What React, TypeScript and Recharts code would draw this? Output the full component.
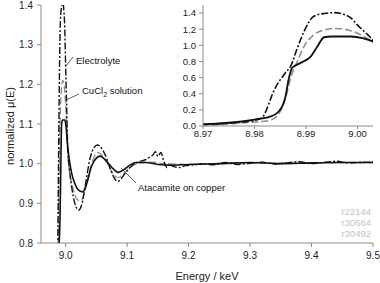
import { LineChart, Line, XAxis, YAxis } from 'recharts';

// Electrolyte (dash-dot)
const electrolyteE = [8.96, 8.97, 8.975, 8.98, 8.9814, 8.984, 8.986, 8.987, 8.9883, 8.9896, 8.9915, 8.9935, 8.9955, 8.9975, 8.9987, 9.0, 9.002, 9.0035, 9.006, 9.01, 9.015, 9.021, 9.026, 9.032, 9.04, 9.046, 9.052, 9.058, 9.065, 9.072, 9.08, 9.085, 9.09, 9.1, 9.11, 9.12, 9.13, 9.138, 9.142, 9.146, 9.15, 9.155, 9.16, 9.165, 9.168, 9.175, 9.185, 9.195, 9.21, 9.225, 9.24, 9.26, 9.28, 9.3, 9.32, 9.34, 9.36, 9.38, 9.4, 9.42, 9.44, 9.46, 9.48, 9.5];
const electrolyteMu = [0.01, 0.02, 0.035, 0.07, 0.1, 0.47, 0.66, 0.74, 0.965, 1.17, 1.36, 1.395, 1.405, 1.38, 1.34, 1.25, 1.13, 1.04, 0.99, 0.94, 0.9, 0.883, 0.895, 0.945, 1.015, 1.04, 1.047, 1.04, 1.02, 0.99, 0.962, 0.955, 0.962, 0.982, 0.998, 1.005, 1.01, 1.018, 1.022, 1.03, 1.018, 1.028, 1.005, 0.99, 1.0, 0.993, 0.99, 0.995, 0.997, 1.0, 0.997, 1.003, 0.998, 1.001, 1.004, 0.999, 1.002, 1.005, 1.0, 1.003, 1.006, 1.002, 1.003, 1.004];

// CuCl2 solution (grey dashed)
const cuclE = [8.96, 8.97, 8.975, 8.98, 8.983, 8.985, 8.9863, 8.987, 8.9883, 8.9896, 8.9915, 8.9935, 8.9955, 8.9975, 9.0, 9.0015, 9.003, 9.006, 9.01, 9.015, 9.02, 9.025, 9.03, 9.037, 9.045, 9.053, 9.06, 9.068, 9.076, 9.085, 9.095, 9.105, 9.12, 9.14, 9.16, 9.18, 9.2, 9.25, 9.3, 9.35, 9.4, 9.45, 9.5];
const cuclMu = [0.005, 0.01, 0.025, 0.05, 0.07, 0.18, 0.41, 0.59, 0.8, 0.985, 1.13, 1.19, 1.21, 1.2, 1.15, 1.1, 1.04, 0.985, 0.95, 0.922, 0.908, 0.907, 0.922, 0.968, 1.012, 1.028, 1.02, 1.0, 0.978, 0.965, 0.975, 0.99, 1.002, 1.004, 1.0, 0.999, 0.998, 1.0, 1.002, 1.001, 1.002, 1.003, 1.003];

// Atacamite on copper (solid)
const atacamiteE = [8.96, 8.97, 8.975, 8.98, 8.983, 8.9847, 8.986, 8.9866, 8.9873, 8.9889, 8.9909, 8.9922, 8.9935, 8.995, 8.9987, 9.001, 9.003, 9.006, 9.01, 9.015, 9.02, 9.0276, 9.035, 9.042, 9.05, 9.056, 9.063, 9.07, 9.078, 9.086, 9.095, 9.105, 9.115, 9.13, 9.15, 9.17, 9.2, 9.25, 9.3, 9.35, 9.4, 9.45, 9.5];
const atacamiteMu = [0.01, 0.02, 0.04, 0.08, 0.115, 0.18, 0.36, 0.57, 0.72, 0.78, 0.86, 0.985, 1.1, 1.11, 1.11, 1.09, 1.05, 1.01, 0.975, 0.95, 0.935, 0.929, 0.953, 0.993, 1.014, 1.019, 1.012, 1.0, 0.986, 0.978, 0.985, 0.997, 1.003, 1.003, 0.998, 0.996, 0.998, 1.0, 1.003, 1.0, 1.002, 1.003, 1.003];

const mainXTicks = [9.0, 9.1, 9.2, 9.3, 9.4, 9.5];
const mainYTicks = [0.8, 0.9, 1.0, 1.1, 1.2, 1.3, 1.4];
const insetXTicks = [8.97, 8.98, 8.99, 9.0];
const insetYTicks = [0, 0.2, 0.4, 0.6, 0.8, 1.0, 1.2, 1.4];
const runLabels = ['r22144', 'r30664', 'r30492'];

const toPoints = (e: number[], mu: number[]) => e.map((x, i) => ({ e: x, mu: mu[i] }));
const electrolyte = toPoints(electrolyteE, electrolyteMu);
const cucl = toPoints(cuclE, cuclMu);
const atacamite = toPoints(atacamiteE, atacamiteMu);

const FONT = '"Liberation Sans", Arial, sans-serif';
const AXIS = '#8a8a8a';
const tickStyle = { fontSize: 10, fill: '#222', fontFamily: FONT };
const insetTick = { fontSize: 9.5, fill: '#222', fontFamily: FONT };

const series = (w = 1) => [
  <Line key="c" data={cucl} dataKey="mu" type="monotone" stroke="#8c8c8c" strokeWidth={1.3 * w} strokeDasharray="7 3" dot={false} isAnimationActive={false} />,
  <Line key="a" data={atacamite} dataKey="mu" type="monotone" stroke="#111" strokeWidth={1.6 * w} dot={false} isAnimationActive={false} />,
  <Line key="e" data={electrolyte} dataKey="mu" type="monotone" stroke="#111" strokeWidth={1.4 * w} strokeDasharray="7 2 2 2" dot={false} isAnimationActive={false} />,
];

export default function App() {
  return (
    <div style={{ position: 'relative', width: 380, height: 283, fontFamily: FONT }}>
      <style>{'body{margin:0}'}</style>
      <LineChart width={380} height={283} margin={{ top: 5, right: 7, left: 0, bottom: 0 }}>
        <XAxis dataKey="e" type="number" domain={[8.96, 9.5]} ticks={mainXTicks} allowDataOverflow
          tickFormatter={(v: number) => v.toFixed(1)} tick={tickStyle} tickSize={4} tickMargin={5}
          stroke={AXIS} height={40} />
        <XAxis xAxisId="top" orientation="top" type="number" domain={[8.96, 9.5]} tick={false} tickLine={false}
          stroke={AXIS} height={0} />
        <YAxis type="number" domain={[0.8, 1.4]} ticks={mainYTicks} allowDataOverflow
          tickFormatter={(v: number) => v.toFixed(1)} tick={tickStyle} tickSize={4} tickMargin={4}
          stroke={AXIS} width={41} />
        <YAxis yAxisId="right" orientation="right" type="number" domain={[0.8, 1.4]} tick={false} tickLine={false}
          stroke={AXIS} width={0} />
        {series()}
      </LineChart>

      <div style={{ position: 'absolute', left: 160, top: 0 }}>
        <LineChart width={220} height={145} margin={{ top: 5, right: 7, left: 0, bottom: 0 }}>
          <rect x={203 - 160} y={5} width={170} height={121} fill="#fff" />
          <XAxis dataKey="e" type="number" domain={[8.97, 9.003]} ticks={insetXTicks} allowDataOverflow
            tickFormatter={(v: number) => v.toFixed(2)} tick={insetTick} tickSize={3} tickMargin={1}
            stroke={AXIS} height={19} />
          <YAxis type="number" domain={[0, 1.5]} ticks={insetYTicks} allowDataOverflow
            tickFormatter={(v: number) => v.toFixed(1)} tick={insetTick} tickSize={4} tickMargin={3}
            stroke={AXIS} width={43} />
          {series(1.15)}
        </LineChart>
      </div>

      <svg width={380} height={283} style={{ position: 'absolute', left: 0, top: 0, pointerEvents: 'none' }}>
        <g fontFamily={FONT} fontSize={9.5} fill="#111">
          <line x1={66} y1={66} x2={73} y2={57} stroke="#333" strokeWidth={0.8} />
          <text x={76} y={64}>Electrolyte</text>
          <line x1={66} y1={100} x2={79} y2={94} stroke="#333" strokeWidth={0.8} />
          <text x={82} y={94}>
            <tspan>CuCl</tspan>
            <tspan dy={3} fontSize={7}>2</tspan>
            <tspan dy={-3}> solution</tspan>
          </text>
          <line x1={121} y1={168} x2={136} y2={183} stroke="#333" strokeWidth={0.8} />
          <text x={138} y={191}>Atacamite on copper</text>
        </g>
        <g fontFamily={FONT} fontSize={9.5} fill="#c4c4c4" textAnchor="end">
          {runLabels.map((r, i) => (
            <text key={r} x={371} y={215 + i * 11}>{r}</text>
          ))}
        </g>
        <text x={207} y={280} textAnchor="middle" fontFamily={FONT} fontSize={11} fill="#222">Energy / keV</text>
        <text transform="translate(14,126) rotate(-90)" textAnchor="middle" fontFamily={FONT} fontSize={11} fill="#222">normalized μ(E)</text>
      </svg>
    </div>
  );
}
